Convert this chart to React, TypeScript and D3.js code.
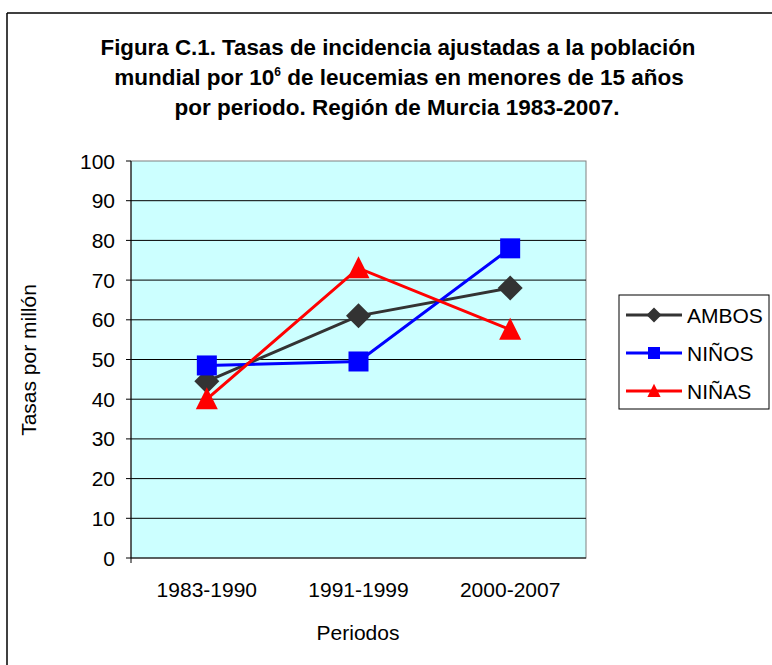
import React from "react";
import * as d3 from "d3";

const categories = ["1983-1990", "1991-1999", "2000-2007"];
const ambos = [44.5, 61, 68];
const ninos = [48.5, 49.5, 78];
const ninas = [40, 73, 57.5];
const yTicks = [0, 10, 20, 30, 40, 50, 60, 70, 80, 90, 100];
const seriesNames = ["AMBOS", "NIÑOS", "NIÑAS"];

const W = 772, H = 665;
const plot = { left: 131, top: 161, right: 586, bottom: 558 };
const font = "'Liberation Sans', Arial, sans-serif";

export default function App() {
  const x = d3.scalePoint<string>().domain(categories).range([plot.left, plot.right]).padding(0.5);
  const y = d3.scaleLinear().domain([0, 100]).range([plot.bottom, plot.top]);
  const line = d3.line<number>().x((_, i) => x(categories[i])!).y((d) => y(d));

  const series = [
    { name: seriesNames[0], data: ambos, color: "#333333", shape: "diamond" },
    { name: seriesNames[1], data: ninos, color: "#0000ff", shape: "square" },
    { name: seriesNames[2], data: ninas, color: "#ff0000", shape: "triangle" },
  ];

  const marker = (shape: string, cx: number, cy: number, color: string, s = 1) => {
    if (shape === "diamond") {
      const r = 12.5 * s;
      return <path d={`M${cx},${cy - r}L${cx + r},${cy}L${cx},${cy + r}L${cx - r},${cy}Z`} fill={color} />;
    }
    if (shape === "square") {
      const r = 10 * s;
      return <rect x={cx - r} y={cy - r} width={2 * r} height={2 * r} fill={color} />;
    }
    const r = 11 * s;
    return <path d={`M${cx},${cy - 12 * s}L${cx + r},${cy + 10 * s}L${cx - r},${cy + 10 * s}Z`} fill={color} />;
  };

  return (
    <svg width={W} height={H} style={{ position: "absolute", left: 0, top: 0, background: "#fff" }} fontFamily={font}>
      <rect x={0} y={0} width={W} height={H} fill="#fff" />
      <line x1={7} y1={13} x2={W} y2={13} stroke="#000" strokeWidth={1.5} />
      <line x1={7} y1={13} x2={7} y2={H} stroke="#000" strokeWidth={1.5} />

      <g fontWeight="bold" fontSize={22.5} fill="#000" textAnchor="middle">
        <text x={398} y={55} textLength={595} lengthAdjust="spacingAndGlyphs">Figura C.1. Tasas de incidencia ajustadas a la población</text>
        <text x={399} y={85}>
          mundial por 10<tspan fontSize={12} dy={-9}>6</tspan>
          <tspan dy={9}> de leucemias en menores de 15 años</tspan>
        </text>
        <text x={397} y={115}>por periodo. Región de Murcia 1983-2007.</text>
      </g>

      <rect x={plot.left} y={plot.top} width={plot.right - plot.left} height={plot.bottom - plot.top} fill="#ccffff" stroke="#808080" strokeWidth={1} />
      {yTicks.filter((t) => t > 0 && t < 100).map((t) => (
        <line key={t} x1={plot.left} x2={plot.right} y1={y(t)} y2={y(t)} stroke="#000" strokeWidth={1} />
      ))}
      <line x1={plot.left} x2={plot.left} y1={plot.top} y2={plot.bottom + 5} stroke="#000" strokeWidth={1} />
      <line x1={plot.left} x2={plot.right} y1={plot.bottom} y2={plot.bottom} stroke="#000" strokeWidth={1} />
      {yTicks.map((t) => (
        <g key={t}>
          <line x1={plot.left - 5} x2={plot.left} y1={y(t)} y2={y(t)} stroke="#000" />
          <text x={plot.left - 16} y={y(t) + 7.5} textAnchor="end" fontSize={21}>{t}</text>
        </g>
      ))}
      {categories.map((c) => (
        <text key={c} x={x(c)} y={597} textAnchor="middle" fontSize={21}>{c}</text>
      ))}
      <text x={358} y={640} textAnchor="middle" fontSize={21}>Periodos</text>
      <text transform={`translate(36,360) rotate(-90)`} textAnchor="middle" fontSize={21}>Tasas por millón</text>

      {series.map((s) => (
        <g key={s.name}>
          <path d={line(s.data)!} fill="none" stroke={s.color} strokeWidth={3} />
          {s.data.map((v, i) => (
            <g key={i}>{marker(s.shape, x(categories[i])!, y(v), s.color)}</g>
          ))}
        </g>
      ))}

      <rect x={619} y={295} width={150} height={114} fill="#fff" stroke="#000" strokeWidth={1} />
      {series.map((s, i) => {
        const ly = 315 + i * 38;
        return (
          <g key={s.name}>
            <line x1={626} x2={682} y1={ly} y2={ly} stroke={s.color} strokeWidth={3} />
            {marker(s.shape, 654, ly, s.color, 0.6)}
            <text x={687} y={ly + 7.5} fontSize={21}>{s.name}</text>
          </g>
        );
      })}
    </svg>
  );
}
